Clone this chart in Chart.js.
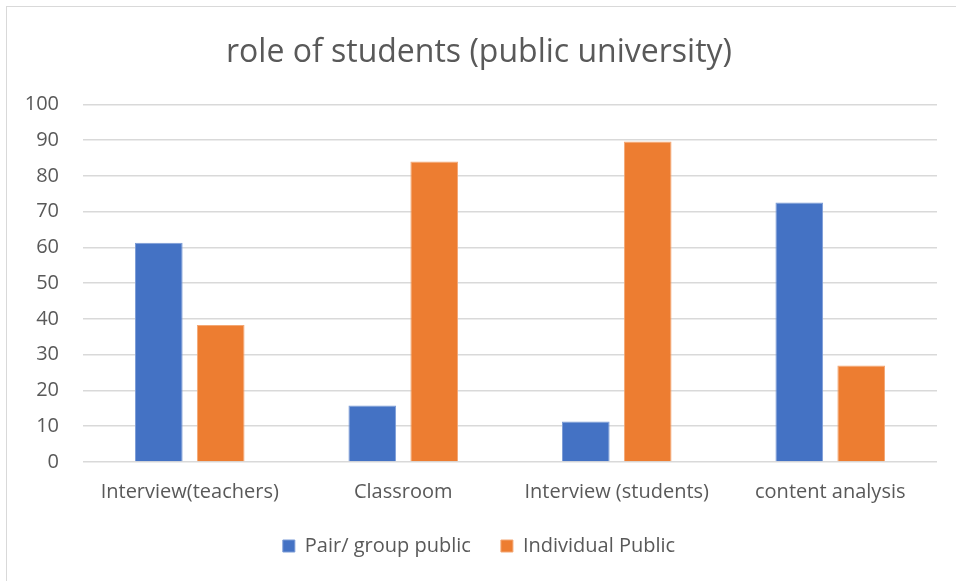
<!DOCTYPE html>
<html>
<head>
<meta charset="utf-8">
<script src="https://cdn.jsdelivr.net/npm/chart.js@4.4.1/dist/chart.umd.min.js"></script>
<style>
  html, body { margin: 0; padding: 0; background: #fff; }
  #wrap { position: relative; width: 956px; height: 581px; }
  #frame { position: absolute; left: 6px; top: 6px; right: 0; bottom: 0;
           border-top: 1px solid #d9d9d9; border-left: 1px solid #d9d9d9; }
  canvas { position: absolute; left: 0; top: 0; }
</style>
</head>
<body>
<div id="wrap">
  <div id="frame"></div>
  <canvas id="roleChart" width="956" height="581"></canvas>
</div>
<script>
// role of students (public university)
const categories = ['Interview(teachers)', 'Classroom', 'Interview (students)', 'content analysis'];
const pairGroup = [61.3, 15.8, 11.3, 72.6];
const individual = [38.3, 84.0, 89.6, 27.0];
const yTicks = [0, 10, 20, 30, 40, 50, 60, 70, 80, 90, 100];

const textColor = '#595959';
const fontFamily = '"Open Sans", "Liberation Sans", sans-serif';

new Chart(document.getElementById('roleChart'), {
  type: 'bar',
  data: {
    labels: categories,
    datasets: [
      {
        label: 'Pair/ group public',
        data: pairGroup,
        backgroundColor: '#4472c4',
        borderColor: '#7b9bd6',
        borderWidth: 1,
        categoryPercentage: 0.58,
        barPercentage: 0.77
      },
      {
        label: 'Individual Public',
        data: individual,
        backgroundColor: '#ed7d31',
        borderColor: '#f3a774',
        borderWidth: 1,
        categoryPercentage: 0.58,
        barPercentage: 0.77
      }
    ]
  },
  options: {
    responsive: false,
    animation: false,
    layout: { padding: { left: 21, right: 19, top: 12, bottom: 15 } },
    plugins: {
      title: {
        display: true,
        text: 'role of students (public university)',
        color: textColor,
        font: { family: fontFamily, size: 32, weight: 'normal' },
        padding: { top: 22, bottom: 32 }
      },
      legend: {
        position: 'bottom',
        labels: {
          color: textColor,
          font: { family: fontFamily, size: 20 },
          boxWidth: 12,
          boxHeight: 12,
          padding: 30
        }
      },
      tooltip: { enabled: false }
    },
    scales: {
      x: {
        grid: { display: false },
        border: { display: false },
        afterFit: axis => {
          axis.height = 44;
          axis.paddingLeft = 0;
          axis.paddingRight = 0;
        },
        ticks: { color: textColor, font: { family: fontFamily, size: 20 }, padding: 10, maxRotation: 0 }
      },
      y: {
        min: 0,
        max: 100,
        afterBuildTicks: axis => { axis.ticks = yTicks.map(v => ({ value: v })); },
        // fixed width so the plot starts where the reference's does
        afterFit: axis => { axis.width = 62; },
        grid: { color: '#d9d9d9', lineWidth: 1.5, drawTicks: false },
        border: { display: false },
        ticks: { color: textColor, font: { family: fontFamily, size: 20 }, padding: 24 }
      }
    }
  }
});
</script>
</body>
</html>
